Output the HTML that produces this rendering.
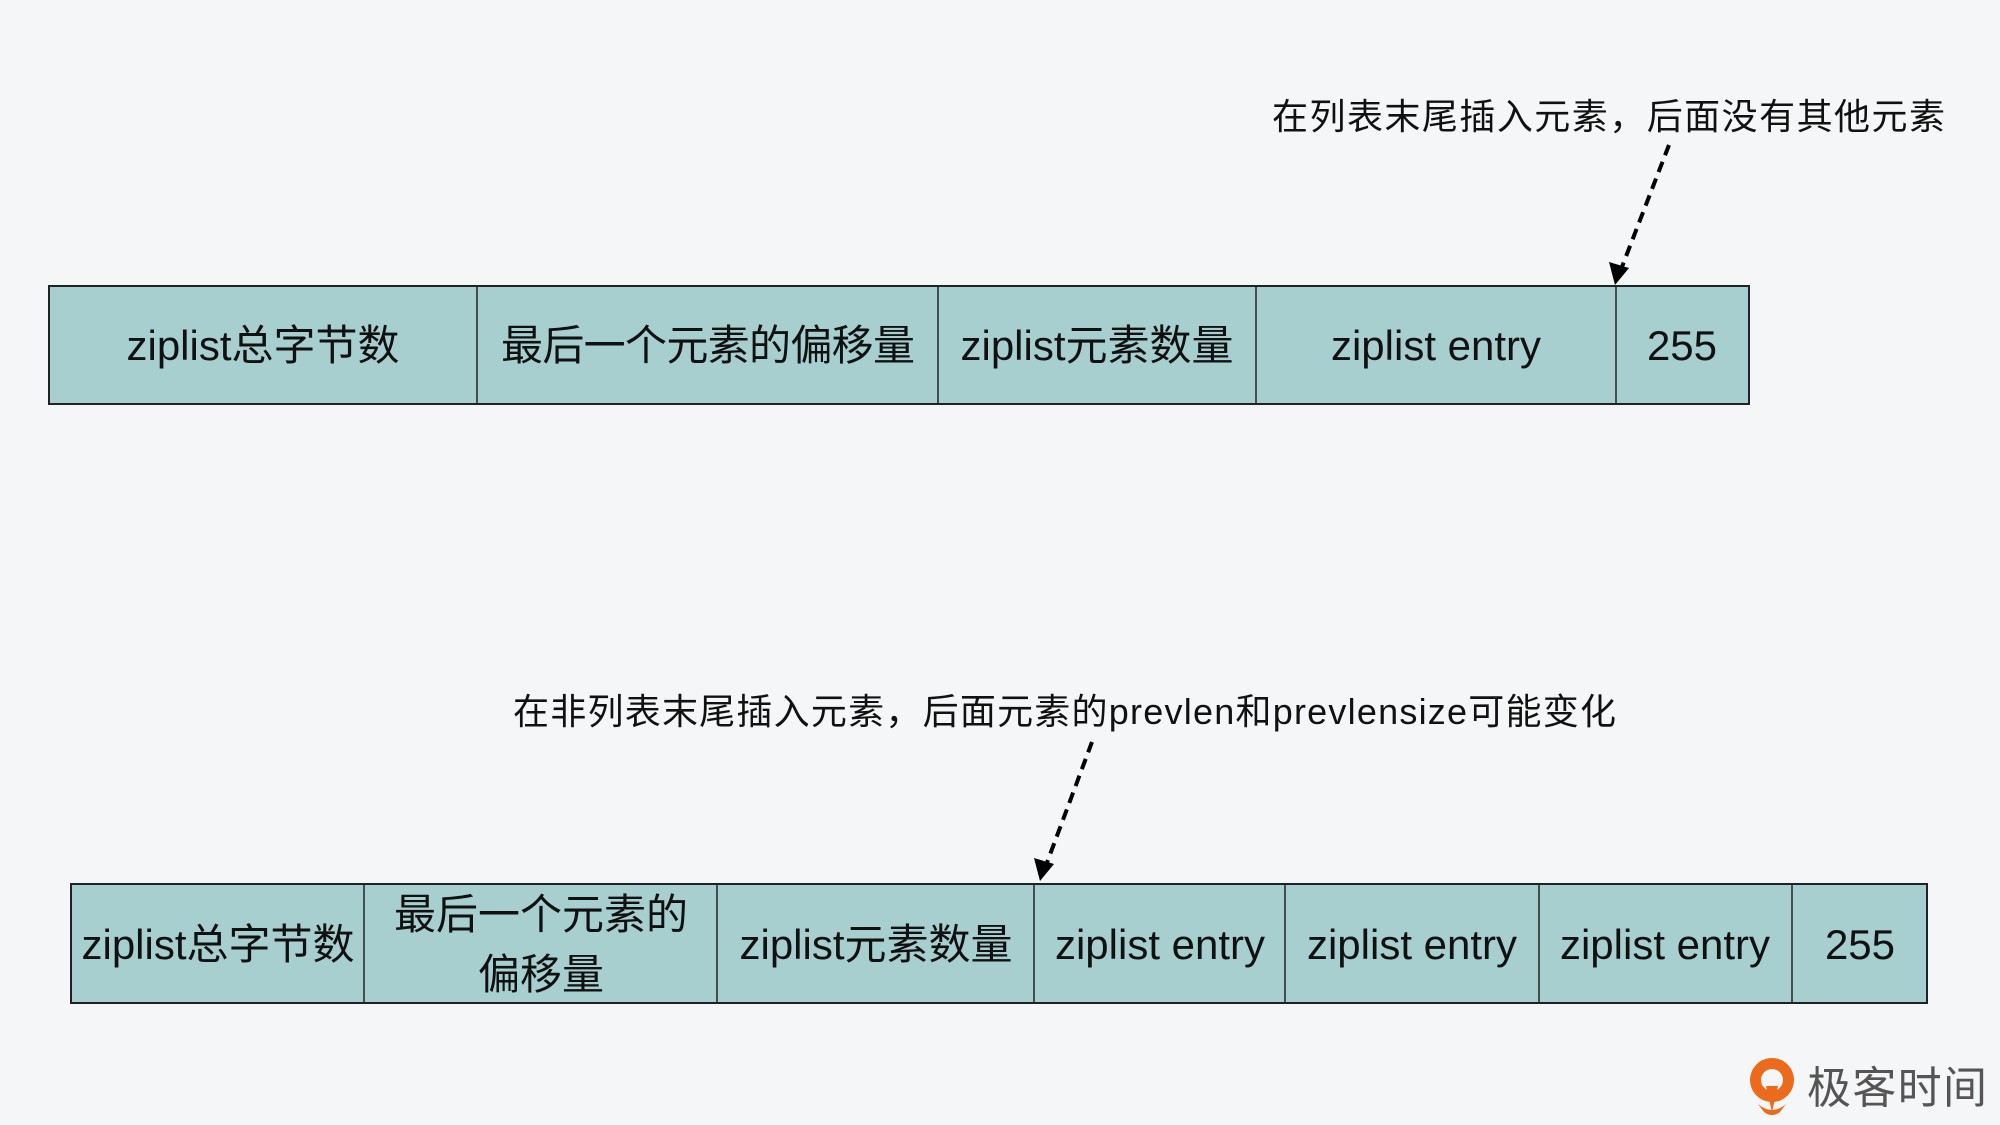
<!DOCTYPE html>
<html><head><meta charset="utf-8"><style>
html,body{margin:0;padding:0;background:#f4f6f8;}
svg{display:block}
text{font-family:"Liberation Sans","Noto Sans CJK SC",sans-serif;}
</style></head><body>
<svg width="2000" height="1125" viewBox="0 0 2000 1125" xmlns="http://www.w3.org/2000/svg">
<rect width="2000" height="1125" fill="#f4f6f8"/>

<!-- top row -->
<rect x="49" y="286" width="1700" height="118" stroke="#222" stroke-width="2" fill="#a8cfd0"/>
<g stroke="#222" stroke-width="1.5">
<line x1="477" y1="286" x2="477" y2="404"/>
<line x1="938" y1="286" x2="938" y2="404"/>
<line x1="1256" y1="286" x2="1256" y2="404"/>
<line x1="1616" y1="286" x2="1616" y2="404"/>
</g>
<g font-size="42" fill="#111" text-anchor="middle">
<text x="263" y="360">ziplist总字节数</text>
<text x="708" y="360" textLength="414">最后一个元素的偏移量</text>
<text x="1097" y="360">ziplist元素数量</text>
<text x="1436" y="360">ziplist entry</text>
<text x="1682" y="360">255</text>
</g>
<text x="1272" y="129" font-size="36" fill="#111" textLength="673">在列表末尾插入元素，后面没有其他元素</text>
<line x1="1669" y1="145" x2="1620" y2="272" stroke="#000" stroke-width="4" stroke-dasharray="11,7"/>
<path d="M1615,285 L1609,262 L1629,268 z" fill="#000"/>

<!-- bottom row -->
<rect x="71" y="884" width="1856" height="119" stroke="#222" stroke-width="2" fill="#a8cfd0"/>
<g stroke="#222" stroke-width="1.5">
<line x1="364" y1="884" x2="364" y2="1003"/>
<line x1="717" y1="884" x2="717" y2="1003"/>
<line x1="1034" y1="884" x2="1034" y2="1003"/>
<line x1="1285" y1="884" x2="1285" y2="1003"/>
<line x1="1539" y1="884" x2="1539" y2="1003"/>
<line x1="1792" y1="884" x2="1792" y2="1003"/>
</g>
<g font-size="42" fill="#111" text-anchor="middle">
<text x="218" y="959">ziplist总字节数</text>
<text x="541" y="929">最后一个元素的</text>
<text x="541" y="989">偏移量</text>
<text x="876" y="959">ziplist元素数量</text>
<text x="1160" y="959">ziplist entry</text>
<text x="1412" y="959">ziplist entry</text>
<text x="1665" y="959">ziplist entry</text>
<text x="1860" y="959">255</text>
</g>
<text x="513" y="724" font-size="36" fill="#111" textLength="1103">在非列表末尾插入元素，后面元素的prevlen和prevlensize可能变化</text>
<line x1="1092" y1="742" x2="1045" y2="868" stroke="#000" stroke-width="4" stroke-dasharray="11,7"/>
<path d="M1040,881 L1034,858 L1054,864 z" fill="#000"/>

<!-- logo -->
<g>
<circle cx="1772" cy="1080" r="22" fill="#ec6a1c"/>
<circle cx="1772" cy="1080" r="11" fill="#f4f6f8"/>
<path d="M1766,1086 L1772,1112 L1778,1086 z" fill="#ec6a1c"/>
<path d="M1758,1104 Q1772,1116 1786,1104 L1780,1112 Q1772,1118 1764,1112 z" fill="#ec6a1c"/>
</g>
<text x="1807" y="1103" font-size="44" fill="#555" textLength="180" font-family="'Noto Sans CJK SC',sans-serif">极客时间</text>
</svg>
</body></html>
